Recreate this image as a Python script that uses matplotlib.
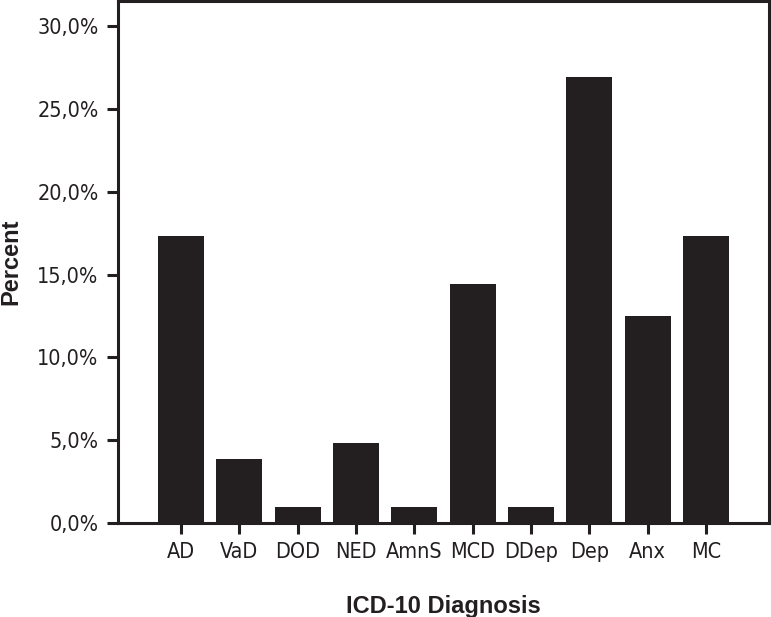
import numpy as np
import matplotlib.pyplot as plt
from matplotlib.ticker import FuncFormatter

plt.rcParams['font.family'] = ['DejaVu Sans']
plt.rcParams['font.stretch'] = 'condensed'

diagnoses = ['AD', 'VaD', 'DOD', 'NED', 'AmnS', 'MCD', 'DDep', 'Dep', 'Anx', 'MC']
percent = [17.3, 3.85, 0.96, 4.8, 0.96, 14.4, 0.96, 26.9, 12.5, 17.3]
yticks = [0, 5, 10, 15, 20, 25, 30]

dark = '#231f20'

fig = plt.figure(figsize=(7.71, 6.17), dpi=100)
ax = fig.add_axes([0.153, 0.1524, 0.8444, 0.8456])

x = np.arange(len(diagnoses))
ax.bar(x, percent, width=0.79, color=dark)

ax.set_xlim(-1.08, 10.08)
ax.set_ylim(0, 31.5)
ax.set_xticks(x)
ax.set_xticklabels(diagnoses)
ax.set_yticks(yticks)
ax.yaxis.set_major_formatter(FuncFormatter(lambda v, p: ('%.1f%%' % v).replace('.', ',')))

for s in ax.spines.values():
    s.set_linewidth(2.2)
    s.set_color(dark)
ax.tick_params(axis='both', length=8, width=2.2, color=dark, labelsize=15.5, labelcolor=dark, pad=6)

ax.set_xlabel('ICD-10 Diagnosis', fontsize=17, fontweight='bold', color=dark,
              family=['Liberation Sans', 'DejaVu Sans'], stretch='normal')
ax.set_ylabel('Percent', fontsize=17, fontweight='bold', color=dark,
              family=['Liberation Sans', 'DejaVu Sans'], stretch='normal')
ax.xaxis.set_label_coords(0.5, -0.138)
ax.yaxis.set_label_coords(-0.147, 0.5)

fig.savefig('out.png', dpi=100)
